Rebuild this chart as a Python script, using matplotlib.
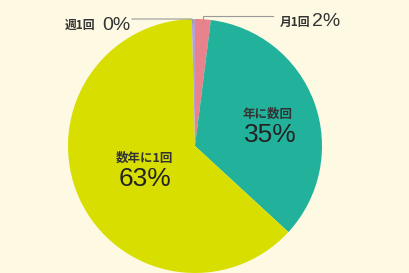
import matplotlib
matplotlib.use("Agg")
import matplotlib.pyplot as plt

plt.rcParams['font.family'] = ['Liberation Sans', 'Noto Sans CJK JP', 'DejaVu Sans']

categories = ["月1回", "年に数回", "数年に1回", "週1回"]
values = [2, 35, 63, 0.4]
pct_labels = ["2%", "35%", "63%", "0%"]
colors = ["#E8828C", "#22B29C", "#D8DF00", "#B4A2D6"]

bg = "#FEF9E2"
fig = plt.figure(figsize=(4.09, 2.73), dpi=100, facecolor=bg)
ax = fig.add_axes([68/409, 0.0, 254/409, 254/273])
ax.set_facecolor(bg)
wedges, _ = ax.pie(values, colors=colors, startangle=90, counterclock=False,
                   wedgeprops=dict(linewidth=0))
ax.set_aspect('equal')
ax.set_xlim(-1, 1)
ax.set_ylim(-1, 1)
ax.axis('off')

small = dict(fontsize=9, color='#333333', fontweight='bold',
             family=['Noto Sans CJK JP', 'DejaVu Sans'])
big = dict(fontsize=19, color='#222222', family=['Liberation Sans', 'DejaVu Sans'])

# inner labels
ax.text(-0.40, -0.094, categories[2], ha='center', va='center', **small)
ax.text(-0.39, -0.26, pct_labels[2], ha='center', va='center', **big)
ax.text(0.57, 0.25, categories[1], ha='center', va='center', **small)
ax.text(0.59, 0.09, pct_labels[1], ha='center', va='center', **big)

# outer labels with leader lines (figure pixel coords)
def fx(px):
    return px / 409
def fy(py):
    return 1 - py / 273

line_c = '#9A9A9A'
fig.add_artist(plt.Line2D([fx(132), fx(192), fx(193)], [fy(19), fy(19), fy(23)],
                          color=line_c, lw=0.8))
fig.add_artist(plt.Line2D([fx(273), fx(203), fx(203)], [fy(16), fy(16), fy(23)],
                          color=line_c, lw=0.8))
top_small = dict(small, fontsize=8.5)
mid = dict(fontsize=14, color='#333333', family=['Liberation Sans', 'DejaVu Sans'])
fig.text(fx(65), fy(25), categories[3], ha='left', va='center', **top_small)
fig.text(fx(102), fy(25), pct_labels[3], ha='left', va='center', **mid)
fig.text(fx(280), fy(22), categories[0], ha='left', va='center', **top_small)
fig.text(fx(312), fy(22), pct_labels[0], ha='left', va='center', **mid)

fig.savefig("out.png", dpi=100, facecolor=bg)
